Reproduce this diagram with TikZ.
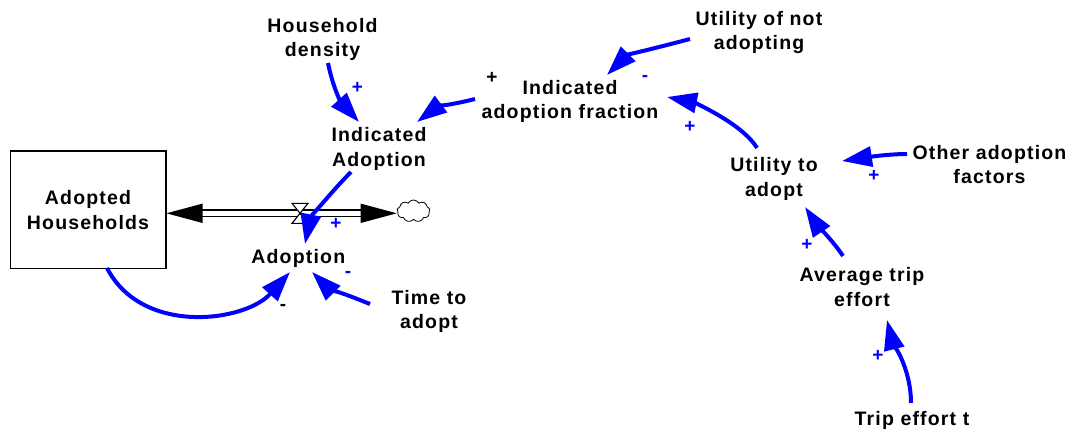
\documentclass[tikz,border=0pt]{standalone}
\usepackage{fontspec}
\setmainfont{Liberation Sans}[LetterSpace=6]
\usetikzlibrary{arrows.meta,shapes.symbols}
\definecolor{vblue}{RGB}{0,0,255}
\begin{document}
\begin{tikzpicture}[x=1pt,y=-1pt,
  var/.style={font=\fontsize{19.5}{24.5}\selectfont\bfseries, align=center, inner sep=0pt},
  pol/.style={font=\fontsize{19}{19}\selectfont\bfseries, inner sep=0pt},
  bpol/.style={pol, text=vblue},
  cl/.style={draw=vblue, line width=4pt, -{Triangle[length=30pt,width=20pt,fill=vblue]}},
  pipe/.style={line width=1.3pt},
  stock/.style={draw, line width=1.3pt, minimum width=155.7pt, minimum height=117.3pt, inner sep=0pt, font=\fontsize{19.5}{25}\selectfont\bfseries, align=center}]
\useasboundingbox (0,0) rectangle (1073,431);
% nodes
\node[stock] (ah) at (88,209.7) {Adopted\\Households};
\node[var] (hd) at (322.5,39.5) {Household\\density};
\node[var] (ia) at (379,149) {Indicated\\Adoption};
\node[var] (iaf) at (570,101.6) {Indicated\\adoption fraction};
\node[var] (una) at (759,32.3) {Utility of not\\adopting};
\node[var] (uta) at (774,179) {Utility to\\adopt};
\node[var] (oaf) at (989.5,164.6) {Other adoption\\factors};
\node[var] (ate) at (862,287) {Average trip\\effort};
\node[var] (tet) at (912,420) {Trip effort t};
\node[var] (tta) at (429,311.3) {Time to\\adopt};
\node[var] (ad) at (298.3,258.3) {Adoption};
\node[cloud, draw, line width=0.8pt, cloud puffs=9, cloud puff arc=120, aspect=1.5, minimum width=33pt, minimum height=22pt, inner sep=0pt] (cld) at (413.5,211) {};
% flow pipe
\coordinate (vl) at (300,213.3);
\coordinate (pl) at (ah.east |- vl);
\coordinate (pr) at (396.7,213.3);
\draw[pipe] ([shift={(35,-3.3)}]pl) -- ([shift={(-35,-3.3)}]pr);
\draw[pipe] ([shift={(35,3.3)}]pl) -- ([shift={(-35,3.3)}]pr);
\fill (pl) -- ++(36,-9.7) -- ++(0,19.4) -- cycle;
\fill (pr) -- ++(-36,-9.7) -- ++(0,19.4) -- cycle;
\draw[line width=1.1pt, fill=white, line join=miter] ([shift={(-8,-10)}]vl) -- ++(16,0) -- ++(-16,20) -- ++(16,0) -- cycle;
% causal links
\draw[cl] ([shift={(5.5,23.5)}]hd.center) .. controls +(5,25) and +(-18,-20) .. ([shift={(-20,-27)}]ia.center);
\draw[cl] ([shift={(-95,-2.6)}]iaf.center) .. controls +(-20,5) and +(20,-15) .. ([shift={(38,-27)}]ia.center);
\draw[cl] ([shift={(-69,6.7)}]una.center) .. controls +(-30,8) and +(20,-20) .. ([shift={(37,-26.6)}]iaf.center);
\draw[cl] ([shift={(-17,-31)}]uta.center) .. controls +(-15,-25) and +(25,5) .. ([shift={(97,-4.6)}]iaf.center);
\draw[cl] ([shift={(-82.5,-10.6)}]oaf.center) .. controls +(-20,0) and +(20,-3) .. ([shift={(68,-18)}]uta.center);
\draw[cl] ([shift={(-19,-31)}]ate.center) .. controls +(-10,-15) and +(10,15) .. ([shift={(31,28)}]uta.center);
\draw[cl] ([shift={(-1,-17)}]tet.center) .. controls +(0,-35) and +(5,20) .. ([shift={(25,33)}]ate.center);
\draw[cl] ([shift={(-28,23)}]ia.center) .. controls +(-20,20) and +(5,-25) .. ([shift={(6.7,-14.3)}]ad.center);
\draw[cl] ([shift={(19,58.3)}]ah.center) .. controls +(35,68) and +(-45,50) .. ([shift={(-8.3,13.7)}]ad.center);
\draw[cl] ([shift={(-59,-7.3)}]tta.center) .. controls +(-20,-8) and +(15,15) .. ([shift={(13.7,13.7)}]ad.center);
% polarities
\node[bpol] (p1) at (357.5,88) {+};
\node[pol] (p2) at (492,78) {+};
\node[bpol] (p3) at (645,78) {-};
\node[bpol] (p4) at (690,127) {+};
\node[bpol] (p5) at (874,176) {+};
\node[bpol] (p6) at (807,245) {+};
\node[bpol] (p7) at (878,356) {+};
\node[bpol] (p8) at (336,224) {+};
\node[pol] (p9) at (283,307) {-};
\node[bpol] (p10) at (348,274) {-};
\end{tikzpicture}
\end{document}
